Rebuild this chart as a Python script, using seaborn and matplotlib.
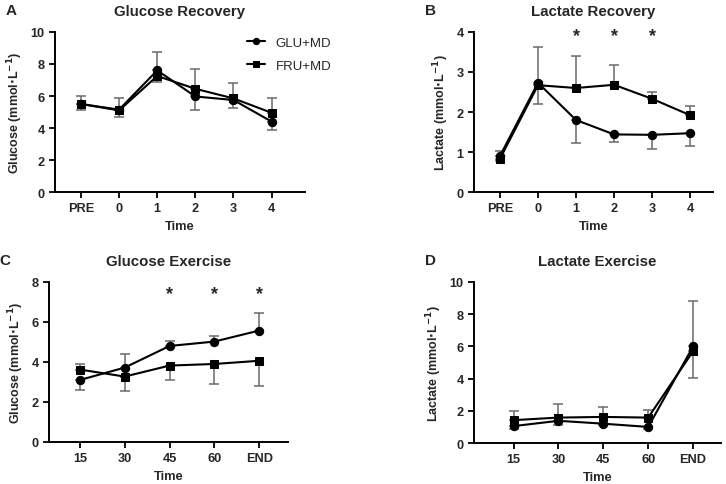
import numpy as np
import pandas as pd
import matplotlib
matplotlib.use("Agg")
import matplotlib.pyplot as plt
import seaborn as sns

# recovery panels (A, B)
rec_times = ["PRE", "0", "1", "2", "3", "4"]
glu_rec_glu = [5.50, 5.15, 7.60, 5.97, 5.75, 4.40]
fru_rec_glu = [5.50, 5.10, 7.25, 6.45, 5.85, 4.95]
glu_rec_glu_err = [0.52, 0.72, 1.15, -0.87, -0.53, -0.55]
fru_rec_glu_err = [-0.40, -0.43, -0.35, 1.23, 0.95, 0.93]

glu_rec_lac = [0.90, 2.73, 1.80, 1.44, 1.43, 1.47]
fru_rec_lac = [0.83, 2.67, 2.60, 2.68, 2.33, 1.92]
glu_rec_lac_err = [0.12, 0.89, -0.57, -0.19, -0.35, -0.32]
fru_rec_lac_err = [-0.05, -0.47, 0.80, 0.50, 0.17, 0.23]
rec_lac_stars = ["1", "2", "3"]

# exercise panels (C, D)
ex_times = ["15", "30", "45", "60", "END"]
glu_ex_glu = [3.10, 3.72, 4.80, 5.02, 5.57]
fru_ex_glu = [3.62, 3.27, 3.82, 3.90, 4.06]
glu_ex_glu_err = [-0.52, 0.68, 0.27, 0.30, 0.88]
fru_ex_glu_err = [0.26, -0.72, -0.74, -1.02, -1.28]
ex_glu_stars = ["45", "60", "END"]

glu_ex_lac = [1.05, 1.38, 1.20, 1.00, 6.00]
fru_ex_lac = [1.42, 1.58, 1.62, 1.58, 5.70]
glu_ex_lac_err = [-0.20, -0.23, -0.10, -0.15, 2.85]
fru_ex_lac_err = [0.55, 0.84, 0.60, 0.50, -1.68]

sns.set_style("ticks")
plt.rcParams["font.family"] = ["Liberation Sans", "DejaVu Sans"]
plt.rcParams["font.weight"] = "bold"

fig = plt.figure(figsize=(7.26, 4.85), dpi=100)


def panel(rect, letter, title, times, glu, fru, glu_err, fru_err, ylabel,
          ymax, ystep, xlim, stars=None, star_y=None, legend=False):
    ax = fig.add_axes(rect)
    df = pd.DataFrame({
        "x": list(range(len(times))) * 2,
        "y": glu + fru,
        "group": ["GLU+MD"] * len(times) + ["FRU+MD"] * len(times),
    })
    for name, errs in [("GLU+MD", glu_err), ("FRU+MD", fru_err)]:
        sub = df[df.group == name]
        e = np.array(errs)
        lower = np.where(e < 0, -e, 0)
        upper = np.where(e > 0, e, 0)
        ax.errorbar(sub.x, sub.y, yerr=[lower, upper], fmt="none",
                    ecolor="#6a6a6a", elinewidth=1.1, capsize=3.5,
                    capthick=1.1, zorder=1)
    sns.lineplot(data=df, x="x", y="y", style="group",
                 markers={"GLU+MD": "o", "FRU+MD": "s"}, dashes=False,
                 color="black", linewidth=1.5, markersize=6,
                 markeredgecolor="black", legend=legend, ax=ax, zorder=3)
    ax.set_xlim(*xlim)
    ax.set_ylim(0, ymax)
    ax.set_yticks(np.arange(0, ymax + 0.01, ystep))
    ax.set_xticks(range(len(times)))
    ax.set_xticklabels(times)
    ax.tick_params(labelsize=9.2, width=1.3, length=4, color="black")
    for lab in ax.get_xticklabels() + ax.get_yticklabels():
        lab.set_fontweight("bold")
    ax.set_xlabel("Time", fontsize=9.3, fontweight="bold", labelpad=4)
    ax.set_ylabel(ylabel, fontsize=9, fontweight="bold", labelpad=4)
    ax.set_title(title, fontsize=10.8, fontweight="bold", pad=12)
    sns.despine(ax=ax)
    for s in ["left", "bottom"]:
        ax.spines[s].set_linewidth(1.4)
        ax.spines[s].set_color("black")
    ax.spines["left"].set_bounds(0, ymax)
    if stars:
        for s in stars:
            ax.text(times.index(s), star_y, "*", ha="center", va="center",
                    fontsize=13, fontweight="bold")
    if legend:
        leg = ax.legend(loc="upper right", bbox_to_anchor=(1.155, 1.045),
                        frameon=False, fontsize=9.5, handlelength=1.4,
                        markerscale=0.75, labelspacing=0.8)
        for t in leg.get_texts():
            t.set_fontweight("normal")
        leg.set_title(None)
    fig.text(rect[0] - 0.068, rect[1] + rect[3] + 0.03, letter,
             fontsize=11, fontweight="bold", va="bottom")
    return ax


ylab_glu = "Glucose (mmol$\\cdot$L$^{\\mathbf{-1}}$)"
ylab_lac = "Lactate (mmol$\\cdot$L$^{\\mathbf{-1}}$)"

panel([0.0758, 0.602, 0.344, 0.33], "A", "Glucose Recovery", rec_times,
      glu_rec_glu, fru_rec_glu, glu_rec_glu_err, fru_rec_glu_err,
      ylab_glu, 10, 2, (-0.68, 5.87), legend=True)
panel([0.653, 0.602, 0.329, 0.33], "B", "Lactate Recovery", rec_times,
      glu_rec_lac, fru_rec_lac, glu_rec_lac_err, fru_rec_lac_err,
      ylab_lac, 4, 1, (-0.68, 5.6), stars=rec_lac_stars, star_y=3.9)
panel([0.0675, 0.0866, 0.329, 0.33], "C", "Glucose Exercise", ex_times,
      glu_ex_glu, fru_ex_glu, glu_ex_glu_err, fru_ex_glu_err,
      ylab_glu, 8, 2, (-0.69, 4.64), stars=ex_glu_stars, star_y=7.4)
panel([0.653, 0.0845, 0.340, 0.332], "D", "Lactate Exercise", ex_times,
      glu_ex_lac, fru_ex_lac, glu_ex_lac_err, fru_ex_lac_err,
      ylab_lac, 10, 2, (-0.88, 4.62))

fig.savefig("out.png", dpi=100)
